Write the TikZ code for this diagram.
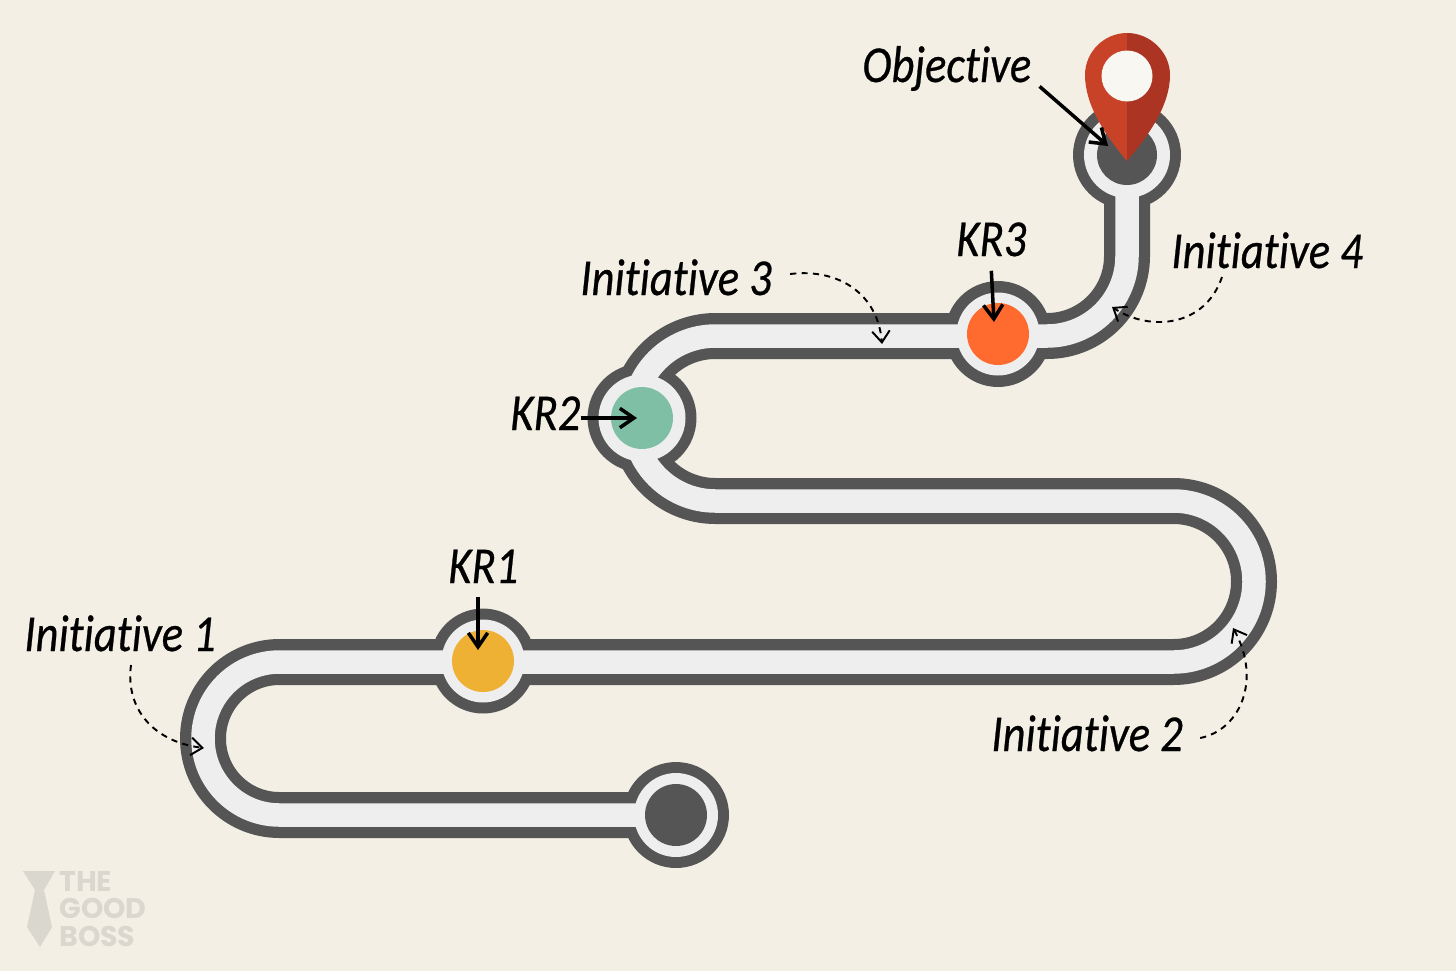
\documentclass[tikz,border=0pt]{standalone}
\usepackage{fontspec}
\setmainfont[FakeStretch=0.86, FakeBold=0.5, Ligatures=CommonOff]{Carlito}
\newfontfamily\markfont{Poppins}
\usetikzlibrary{arrows.meta,positioning,calc}
\definecolor{paper}{HTML}{F3EFE4}
\definecolor{roaddark}{HTML}{555555}
\definecolor{roadlight}{HTML}{EEEEEE}
\definecolor{amber}{HTML}{EFB134}
\definecolor{seagreen}{HTML}{7FBFA6}
\definecolor{tangerine}{HTML}{FF6A2E}
\definecolor{pinleft}{HTML}{C84228}
\definecolor{pinright}{HTML}{AB3522}
\definecolor{markgrey}{HTML}{D9D7CE}
\tikzset{
  roadedge/.style={draw=roaddark, line width=0.92cm, line join=round},
  roadfill/.style={draw=roadlight, line width=0.47cm, line join=round},
  stopdisc/.style={circle, fill=#1, inner sep=0pt},
  labelnode/.style={
    font=\fontsize{29.5}{32}\selectfont\itshape, color=black,
    anchor=base west, inner sep=0pt
  },
  keyarrow/.style={
    -{Straight Barb[length=8pt, width=11pt, line width=2pt]}, line width=2pt, color=black
  },
  hintarrow/.style={
    -{Straight Barb[length=6.5pt, width=10pt, line width=1.1pt]}, line width=1.1pt,
    dash pattern=on 3.5pt off 3pt, color=black
  },
}
% centre line of the road, from the start disc up to the goal
\def\roadline{(676,815) [rounded corners=1.53cm] -- (203,815) -- (203,662)
  [rounded corners=1.61cm] -- (1254,662) -- (1254,501)
  [rounded corners=1.65cm] -- (633,501) -- (633,336)
  [rounded corners=1.6cm] -- (1127,336) -- (1127,155)}
\begin{document}
\begin{tikzpicture}[x=0.02cm, y=-0.02cm]

\fill[paper] (0,0) rectangle (1456,971);
\useasboundingbox (0,0) rectangle (1456,971);

% Road edge and the dark discs
\draw[roadedge] \roadline;
\foreach \stopname/\px/\py/\rout in {start/676/815/1.06cm, kr1/483/661/1.05cm, kr2/642/418/1.09cm,
    kr3/998/334/1.06cm, goal/1127/155/1.08cm}
  \node[stopdisc=roaddark, minimum size=2*\rout] (\stopname outer) at (\px,\py) {};

% Road surface on top, so it runs into the rings
\draw[roadfill] \roadline;
\foreach \stopname/\px/\py/\rin in {start/676/815/0.84cm, kr1/483/661/0.83cm, kr2/642/418/0.87cm,
    kr3/998/334/0.83cm, goal/1127/155/0.86cm}
  \node[stopdisc=roadlight, minimum size=2*\rin] (\stopname ring) at (\px,\py) {};

% Coloured centres
\node[stopdisc=roaddark, minimum size=1.24cm] (start) at (676,815) {};
\node[stopdisc=amber, minimum size=1.24cm] (kr1) at (483,661) {};
\node[stopdisc=seagreen, minimum size=1.24cm] (kr2) at (642,418) {};
\node[stopdisc=tangerine, minimum size=1.24cm] (kr3) at (998,334) {};
\node[stopdisc=roaddark, minimum size=1.2cm] (goal) at (1127,155) {};

% Map pin
\fill[pinleft] (1127,161) .. controls (1105,135) and (1085,105) .. (1085,75)
  .. controls (1085,52) and (1104,33) .. (1127,33) -- cycle;
\fill[pinright] (1127,161) .. controls (1149,135) and (1170,105) .. (1170,75)
  .. controls (1170,52) and (1150,33) .. (1127,33) -- cycle;
\node[stopdisc=paper!50!white, minimum size=1.02cm] (pinhole) at (1127,76) {};

% Labels
\node[labelnode] (objective) at (862,82) {Objective};
\node[labelnode] (kr3label) at (956,256) {KR3};
\node[labelnode] (kr2label) at (510,430) {KR2};
\node[labelnode] (kr1label) at (448,583) {KR1};
\node[labelnode] (init1) at (24,651) {Initiative 1};
\node[labelnode] (init2) at (991,751) {Initiative 2};
\node[labelnode] (init3) at (580,295) {Initiative 3};
\node[labelnode] (init4) at (1171,268) {Initiative 4};

% Ends of the connectors
\coordinate (goalend) at (1108,146);
\coordinate (kr3end) at (994,322);
\coordinate (kr2end) at (637,418);
\coordinate (kr1end) at (478,650);
\coordinate (road1) at (204,748);
\coordinate (road2) at (1233,628);
\coordinate (road3) at (882,344);
\coordinate (road4) at (1112,307);

% Solid arrows
\draw[keyarrow] ([shift={(8,18)}]objective.east) -- (goalend);
\draw[keyarrow] ([yshift=-8pt]kr3label.south) -- (kr3end);
\draw[keyarrow] (kr2label.east |- kr2end) -- (kr2end);
\draw[keyarrow] ([yshift=-8pt]kr1label.south -| kr1end) -- (kr1end);

% Dashed arrows
\draw[hintarrow] ([shift={(107,14)}]init1.base west) .. controls (125,710) and (155,742) .. (road1);
\draw[hintarrow] ([shift={(17,-13)}]init2.base east) .. controls (1240,730) and (1262,680) .. (road2);
\draw[hintarrow] ([shift={(18,-21)}]init3.base east) .. controls (840,268) and (878,295) .. (road3);
\draw[hintarrow] ([shift={(51,9)}]init4.base west) .. controls (1205,327) and (1150,332) .. (road4);

% Watermark
\fill[markgrey] (23,871) -- (55,871) -- (44,890) -- (52,927) -- (40,947) -- (27,927) -- (35,890) -- cycle;
\node[anchor=north west, inner sep=0pt, align=left, text=markgrey,
  font=\markfont\bfseries\fontsize{16.2}{15.6}\selectfont] (brand) at (59,871) {THE\\GOOD\\BOSS};

\end{tikzpicture}
\end{document}
